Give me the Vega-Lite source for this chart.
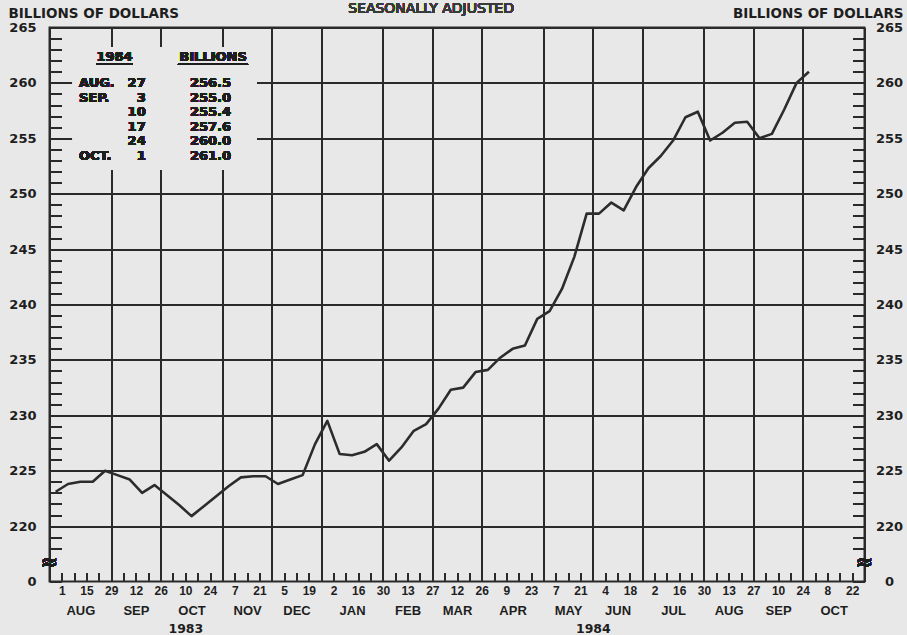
{
  "$schema": "https://vega.github.io/schema/vega-lite/v6.json",
  "width": 815,
  "height": 554,
  "autosize": "none",
  "padding": {"left": 49.5, "top": 27.5, "right": 42.5, "bottom": 53.5},
  "background": "#e8e8e8",
  "config": {
    "view": {"stroke": "#2a2a2a", "strokeWidth": 2},
    "axis": {"labelColor": "#1e1e1e", "titleColor": "#1e1e1e", "tickColor": "#2a2a2a", "gridColor": "#2a2a2a", "domain": false, "labelFontWeight": "bold", "titleFontWeight": "bold", "labelOverlap": false, "labelFlush": false}
  },
  "data": {"values": [
    {"date": "1983-08-01", "value": 223.1},
    {"date": "1983-08-08", "value": 223.8},
    {"date": "1983-08-15", "value": 224.0},
    {"date": "1983-08-22", "value": 224.0},
    {"date": "1983-08-29", "value": 225.0},
    {"date": "1983-09-05", "value": 224.6},
    {"date": "1983-09-12", "value": 224.2},
    {"date": "1983-09-19", "value": 223.0},
    {"date": "1983-09-26", "value": 223.7},
    {"date": "1983-10-03", "value": 222.8},
    {"date": "1983-10-10", "value": 221.9},
    {"date": "1983-10-17", "value": 220.9},
    {"date": "1983-10-24", "value": 221.8},
    {"date": "1983-10-31", "value": 222.7},
    {"date": "1983-11-07", "value": 223.6},
    {"date": "1983-11-14", "value": 224.4},
    {"date": "1983-11-21", "value": 224.5},
    {"date": "1983-11-28", "value": 224.5},
    {"date": "1983-12-05", "value": 223.8},
    {"date": "1983-12-12", "value": 224.2},
    {"date": "1983-12-19", "value": 224.6},
    {"date": "1983-12-26", "value": 227.4},
    {"date": "1984-01-02", "value": 229.5},
    {"date": "1984-01-09", "value": 226.5},
    {"date": "1984-01-16", "value": 226.4},
    {"date": "1984-01-23", "value": 226.7},
    {"date": "1984-01-30", "value": 227.4},
    {"date": "1984-02-06", "value": 225.9},
    {"date": "1984-02-13", "value": 227.1},
    {"date": "1984-02-20", "value": 228.6},
    {"date": "1984-02-27", "value": 229.2},
    {"date": "1984-03-05", "value": 230.6},
    {"date": "1984-03-12", "value": 232.3},
    {"date": "1984-03-19", "value": 232.5},
    {"date": "1984-03-26", "value": 233.9},
    {"date": "1984-04-02", "value": 234.1},
    {"date": "1984-04-09", "value": 235.2},
    {"date": "1984-04-16", "value": 236.0},
    {"date": "1984-04-23", "value": 236.3},
    {"date": "1984-04-30", "value": 238.7},
    {"date": "1984-05-07", "value": 239.4},
    {"date": "1984-05-14", "value": 241.4},
    {"date": "1984-05-21", "value": 244.3},
    {"date": "1984-05-28", "value": 248.2},
    {"date": "1984-06-04", "value": 248.2},
    {"date": "1984-06-11", "value": 249.2},
    {"date": "1984-06-18", "value": 248.5},
    {"date": "1984-06-25", "value": 250.6},
    {"date": "1984-07-02", "value": 252.3},
    {"date": "1984-07-09", "value": 253.4},
    {"date": "1984-07-16", "value": 254.8},
    {"date": "1984-07-23", "value": 256.9},
    {"date": "1984-07-30", "value": 257.4},
    {"date": "1984-08-06", "value": 254.8},
    {"date": "1984-08-13", "value": 255.5},
    {"date": "1984-08-20", "value": 256.4},
    {"date": "1984-08-27", "value": 256.5},
    {"date": "1984-09-03", "value": 255.0},
    {"date": "1984-09-10", "value": 255.4},
    {"date": "1984-09-17", "value": 257.6},
    {"date": "1984-09-24", "value": 260.0},
    {"date": "1984-10-01", "value": 261.0}
  ]},
  "layer": [
    {
      "mark": {"type": "rect", "fill": "#e8e8e8"},
      "encoding": {
        "x": {"datum": {"year": 1983, "month": 8, "date": 10, "hours": 19, "utc": true}, "type": "temporal", "scale": {"type": "utc", "domain": [428241600000, 468158400000], "nice": false}, "axis": null},
        "x2": {"datum": {"year": 1983, "month": 11, "date": 23, "hours": 2, "utc": true}},
        "y": {"datum": 263.24, "type": "quantitative", "scale": {"domain": [215, 265], "nice": false, "zero": false}, "axis": null},
        "y2": {"datum": 252.14}
      }
    },
    {
      "mark": {"type": "line", "color": "#2c2c2c", "strokeWidth": 2.6, "strokeJoin": "round"},
      "encoding": {
        "x": {"field": "date", "type": "temporal", "scale": {"type": "utc", "domain": [428241600000, 468158400000], "nice": false},
          "axis": {"orient": "bottom", "title": null, "labels": false, "ticks": true, "tickSize": -9, "tickWidth": 2,
            "values": [428241600000, 428846400000, 429451200000, 430056000000, 430660800000, 431265600000, 431870400000, 432475200000, 433080000000, 433684800000, 434289600000, 434894400000, 435499200000, 436104000000, 436708800000, 437313600000, 437918400000, 438523200000, 439128000000, 439732800000, 440337600000, 440942400000, 441547200000, 442152000000, 442756800000, 443361600000, 443966400000, 444571200000, 445176000000, 445780800000, 446385600000, 446990400000, 447595200000, 448200000000, 448804800000, 449409600000, 450014400000, 450619200000, 451224000000, 451828800000, 452433600000, 453038400000, 453643200000, 454248000000, 454852800000, 455457600000, 456062400000, 456667200000, 457272000000, 457876800000, 458481600000, 459086400000, 459691200000, 460296000000, 460900800000, 461505600000, 462110400000, 462715200000, 463320000000, 463924800000, 464529600000, 465134400000, 465739200000, 466344000000, 466948800000, 467553600000, 468158400000],
            "grid": true, "gridWidth": 2,
            "gridOpacity": {"condition": {"test": "utcmonth(time(datum.value) + 302400000) != utcmonth(time(datum.value) - 302400000)", "value": 1}, "value": 0}}},
        "y": {"field": "value", "type": "quantitative", "scale": {"domain": [215, 265], "nice": false, "zero": false},
          "axis": {"orient": "left", "values": [215, 218, 219, 220, 221, 222, 223, 224, 225, 226, 227, 228, 229, 230, 231, 232, 233, 234, 235, 236, 237, 238, 239, 240, 241, 242, 243, 244, 245, 246, 247, 248, 249, 250, 251, 252, 253, 254, 255, 256, 257, 258, 259, 260, 261, 262, 263, 264, 265],
            "labelExpr": "datum.value == 215 ? '0' : (datum.value % 5 == 0 ? '' + datum.value : '')",
            "ticks": true, "tickSize": -12, "tickWidth": 2, "labelPadding": 25.5, "labelFont": "DejaVu Sans", "labelFontSize": 13, "labelAlign": "right",
            "grid": true, "gridWidth": 2,
            "gridOpacity": {"condition": {"test": "datum.value % 5 == 0 && datum.value > 215", "value": 1}, "value": 0},
            "title": "BILLIONS OF DOLLARS", "titleAngle": 0, "titleAlign": "left", "titleBaseline": "alphabetic", "titleX": -41.5, "titleY": -10, "titleFont": "DejaVu Sans", "titleFontSize": 13.5}}
      }
    },
    {
      "mark": {"type": "point", "opacity": 0},
      "encoding": {
        "x": {"field": "date", "type": "temporal", "scale": {"type": "utc", "domain": [428241600000, 468158400000], "nice": false},
          "axis": {"orient": "bottom", "title": null, "ticks": false, "grid": false, "labelPadding": 9, "labelBaseline": "middle", "labelFont": "Liberation Sans", "labelFontSize": 12,
            "values": [428846400000, 430056000000, 431265600000, 432475200000, 433684800000, 434894400000, 436104000000, 437313600000, 438523200000, 439732800000, 440942400000, 442152000000, 443361600000, 444571200000, 445780800000, 446990400000, 448200000000, 449409600000, 450619200000, 451828800000, 453038400000, 454248000000, 455457600000, 456667200000, 457876800000, 459086400000, 460296000000, 461505600000, 462715200000, 463924800000, 465134400000, 466344000000, 467553600000],
            "labelExpr": "utcFormat(datum.value - 302400000, '%-d')"}},
        "y": {"field": "value", "type": "quantitative", "scale": {"domain": [215, 265], "nice": false, "zero": false},
          "axis": {"orient": "right", "values": [215, 218, 219, 220, 221, 222, 223, 224, 225, 226, 227, 228, 229, 230, 231, 232, 233, 234, 235, 236, 237, 238, 239, 240, 241, 242, 243, 244, 245, 246, 247, 248, 249, 250, 251, 252, 253, 254, 255, 256, 257, 258, 259, 260, 261, 262, 263, 264, 265],
            "labelExpr": "datum.value == 215 ? '0' : (datum.value % 5 == 0 ? '' + datum.value : '')",
            "ticks": true, "tickSize": -12, "tickWidth": 2, "labelPadding": 36.5, "labelFont": "DejaVu Sans", "labelFontSize": 13, "labelAlign": "center", "grid": false,
            "title": "BILLIONS OF DOLLARS", "titleAngle": 0, "titleAlign": "right", "titleBaseline": "alphabetic", "titleX": 38.5, "titleY": -10, "titleFont": "DejaVu Sans", "titleFontSize": 13.5}}
      }
    },
    {
      "mark": {"type": "point", "opacity": 0},
      "encoding": {
        "x": {"field": "date", "type": "temporal", "scale": {"type": "utc", "domain": [428241600000, 468158400000], "nice": false},
          "axis": {"orient": "bottom", "title": null, "ticks": false, "grid": false, "labelPadding": 28.8, "labelBaseline": "middle", "labelFont": "Liberation Sans", "labelFontSize": 13,
            "values": [429753600000, 432475200000, 435196800000, 437918400000, 440337600000, 443059200000, 445780800000, 448200000000, 450921600000, 453643200000, 456062400000, 458784000000, 461505600000, 463924800000, 466646400000],
            "labelExpr": "upper(utcFormat(datum.value, '%b'))"}},
        "y": {"field": "value", "type": "quantitative", "scale": {"domain": [215, 265], "nice": false, "zero": false}, "axis": null}
      }
    },
    {
      "mark": {"type": "point", "opacity": 0},
      "encoding": {
        "x": {"field": "date", "type": "temporal", "scale": {"type": "utc", "domain": [428241600000, 468158400000], "nice": false},
          "axis": {"orient": "bottom", "title": null, "ticks": false, "grid": false, "labelPadding": 46.5, "labelBaseline": "middle", "labelFont": "DejaVu Sans", "labelFontSize": 12.5,
            "values": [434894400000, 454852800000],
            "labelExpr": "utcFormat(datum.value, '%Y')"}},
        "y": {"field": "value", "type": "quantitative", "scale": {"domain": [215, 265], "nice": false, "zero": false}, "axis": null}
      }
    },
    {
      "mark": {"type": "text", "align": "center", "baseline": "top", "font": "DejaVu Sans", "fontSize": 14, "fontWeight": "normal", "color": "#3a3a3a"},
      "encoding": {
        "x": {"datum": {"year": 1984, "month": 2, "date": 29, "hours": 19, "utc": true}, "type": "temporal", "axis": null},
        "y": {"datum": 267.3, "type": "quantitative", "axis": null},
        "text": {"value": "SEASONALLY ADJUSTED"}
      }
    },
    {
      "mark": {"type": "text", "align": "left", "baseline": "alphabetic", "lineHeight": 14.6, "font": "DejaVu Sans", "fontSize": 13, "fontWeight": "bold", "color": "#1e1e1e"},
      "encoding": {
        "x": {"datum": {"year": 1983, "month": 8, "date": 14, "hours": 5, "utc": true}, "type": "temporal", "axis": null},
        "y": {"datum": 259.63, "type": "quantitative", "axis": null},
        "text": {"value": ["AUG.", "SEP."]}
      }
    },
    {
      "mark": {"type": "text", "align": "left", "baseline": "alphabetic", "font": "DejaVu Sans", "fontSize": 13, "fontWeight": "bold", "color": "#1e1e1e"},
      "encoding": {
        "x": {"datum": {"year": 1983, "month": 8, "date": 14, "hours": 5, "utc": true}, "type": "temporal", "axis": null},
        "y": {"datum": 253.04, "type": "quantitative", "axis": null},
        "text": {"value": "OCT."}
      }
    },
    {
      "mark": {"type": "text", "align": "right", "baseline": "alphabetic", "lineHeight": 14.6, "font": "DejaVu Sans", "fontSize": 13, "fontWeight": "bold", "color": "#1e1e1e"},
      "encoding": {
        "x": {"datum": {"year": 1983, "month": 9, "date": 21, "hours": 1, "utc": true}, "type": "temporal", "axis": null},
        "y": {"datum": 259.63, "type": "quantitative", "axis": null},
        "text": {"value": ["27", "3", "10", "17", "24", "1"]}
      }
    },
    {
      "mark": {"type": "text", "align": "right", "baseline": "alphabetic", "lineHeight": 14.6, "font": "DejaVu Sans", "fontSize": 13, "fontWeight": "bold", "color": "#1e1e1e"},
      "encoding": {
        "x": {"datum": {"year": 1983, "month": 11, "date": 8, "hours": 10, "utc": true}, "type": "temporal", "axis": null},
        "y": {"datum": 259.63, "type": "quantitative", "axis": null},
        "text": {"value": ["256.5", "255.0", "255.4", "257.6", "260.0", "261.0"]}
      }
    },
    {
      "mark": {"type": "text", "align": "center", "baseline": "alphabetic", "font": "DejaVu Sans", "fontSize": 13, "fontWeight": "bold", "color": "#1e1e1e"},
      "encoding": {
        "x": {"datum": {"year": 1983, "month": 9, "date": 3, "hours": 8, "utc": true}, "type": "temporal", "axis": null},
        "y": {"datum": 261.98, "type": "quantitative", "axis": null},
        "text": {"value": "1984"}
      }
    },
    {
      "mark": {"type": "text", "align": "center", "baseline": "alphabetic", "font": "DejaVu Sans", "fontSize": 13, "fontWeight": "bold", "color": "#1e1e1e"},
      "encoding": {
        "x": {"datum": {"year": 1983, "month": 10, "date": 29, "hours": 5, "utc": true}, "type": "temporal", "axis": null},
        "y": {"datum": 261.98, "type": "quantitative", "axis": null},
        "text": {"value": "BILLIONS"}
      }
    },
    {
      "mark": {"type": "rule", "color": "#1e1e1e", "strokeWidth": 1.8},
      "encoding": {
        "x": {"datum": {"year": 1983, "month": 8, "date": 23, "hours": 21, "utc": true}, "type": "temporal", "axis": null},
        "x2": {"datum": {"year": 1983, "month": 9, "date": 13, "hours": 20, "utc": true}},
        "y": {"datum": 261.7, "type": "quantitative", "axis": null}
      }
    },
    {
      "mark": {"type": "rule", "color": "#1e1e1e", "strokeWidth": 1.8},
      "encoding": {
        "x": {"datum": {"year": 1983, "month": 10, "date": 9, "hours": 8, "utc": true}, "type": "temporal", "axis": null},
        "x2": {"datum": {"year": 1983, "month": 11, "date": 18, "hours": 1, "utc": true}},
        "y": {"datum": 261.7, "type": "quantitative", "axis": null}
      }
    },
    {
      "mark": {"type": "text", "align": "center", "baseline": "middle", "font": "DejaVu Sans", "fontSize": 21, "fontWeight": "bold", "color": "#1e1e1e"},
      "encoding": {
        "x": {"datum": 428241600000, "type": "temporal", "axis": null},
        "y": {"datum": 216.67, "type": "quantitative", "axis": null},
        "text": {"value": "≈"}
      }
    },
    {
      "mark": {"type": "text", "align": "center", "baseline": "middle", "font": "DejaVu Sans", "fontSize": 21, "fontWeight": "bold", "color": "#1e1e1e"},
      "encoding": {
        "x": {"datum": 468158400000, "type": "temporal", "axis": null},
        "y": {"datum": 216.67, "type": "quantitative", "axis": null},
        "text": {"value": "≈"}
      }
    }
  ],
  "resolve": {"axis": {"x": "independent", "y": "independent"}}
}
